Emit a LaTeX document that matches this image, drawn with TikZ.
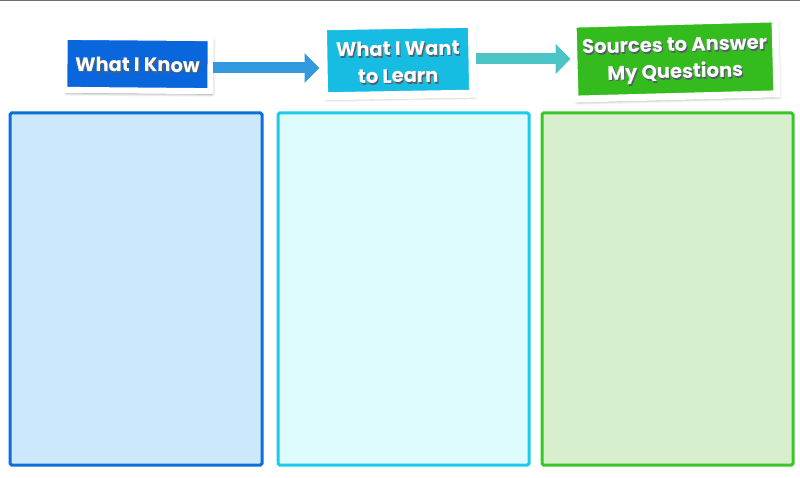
\documentclass[tikz,border=0pt]{standalone}
\usepackage{fontspec}
\setmainfont{Poppins}
\usetikzlibrary{arrows.meta,shadows.blur}

\definecolor{knowbox}{HTML}{0A66DC}
\definecolor{wantbox}{HTML}{16BCE2}
\definecolor{srcbox}{HTML}{34BC1F}
\definecolor{arrowA}{HTML}{3399DD}
\definecolor{arrowB}{HTML}{4CC4C6}
\definecolor{knowline}{HTML}{0A6FD6}
\definecolor{knowfill}{HTML}{CCE8FD}
\definecolor{wantline}{HTML}{1CCBEA}
\definecolor{wantfill}{HTML}{DEFBFE}
\definecolor{srcline}{HTML}{3AC52A}
\definecolor{srcfill}{HTML}{D8EFCD}
\definecolor{topline}{HTML}{6E6E6E}
\definecolor{textshade}{HTML}{1A2A3A}

% white caption text with a dark drop shadow set underneath it
\newcommand\shadowedline[1]{%
  \rlap{\hspace{1.2pt}\raisebox{-1.8pt}{\textcolor{textshade!75}{#1}}}#1}

\tikzset{
  card/.style={draw=white, line width=#1, inner sep=0pt,
    blur shadow={shadow xshift=2pt, shadow yshift=-3pt,
      shadow blur radius=3pt, shadow blur steps=8, shadow opacity=45}},
  cardtext/.style={text=white, font=\bfseries\fontsize{19.5}{27}\selectfont,
    align=center, inner sep=0pt},
  flow/.style={line width=11pt, -{Triangle[length=15pt, width=29pt]}},
  panel/.style={line width=3pt, rounded corners=1.5pt}
}

\begin{document}
\begin{tikzpicture}[x=1pt, y=-1pt]
  \useasboundingbox (0,0) rectangle (800,478);

  % thin rule along the top edge
  \draw[topline, line width=1.5pt] (0,0.75) -- (800,0.75);

  % the three column panels
  \draw[panel, draw=knowline, fill=knowfill] (10,113) rectangle (262,465);
  \draw[panel, draw=wantline, fill=wantfill] (278,113) rectangle (529,465);
  \draw[panel, draw=srcline, fill=srcfill] (542,113) rectangle (793,465);

  % heading cards
  \node[card=6pt, fill=knowbox, minimum width=146pt, minimum height=53pt,
        rotate=-0.5] (k1) at (137.5,64) {};
  \node[card=8pt, fill=wantbox, minimum width=149pt, minimum height=70pt,
        rotate=1] (k2) at (398,60) {};
  \node[card=7pt, fill=srcbox, minimum width=202pt, minimum height=75pt,
        rotate=1.5] (k3) at (675,59) {};

  % card captions
  \node[cardtext, rotate=-0.5] (k1t) at ([yshift=-1.5pt]k1.center)
    {\shadowedline{What I Know}};
  \node[cardtext, rotate=1] (k2t) at ([yshift=-3pt]k2.center)
    {\shadowedline{What I Want}\\\shadowedline{to Learn}};
  \node[cardtext, rotate=1.5] (k3t) at ([yshift=-2.5pt]k3.center)
    {\shadowedline{Sources to Answer}\\\shadowedline{My Questions}};

  % flow arrows between the cards
  \coordinate (a1) at (k1.east |- 0,68);
  \coordinate (a2) at (k2.east |- 0,59);
  \draw[flow, arrowA] (a1) -- (a1 -| k2.west);
  \draw[flow, arrowB] (a2) -- (a2 -| k3.west);
\end{tikzpicture}
\end{document}
